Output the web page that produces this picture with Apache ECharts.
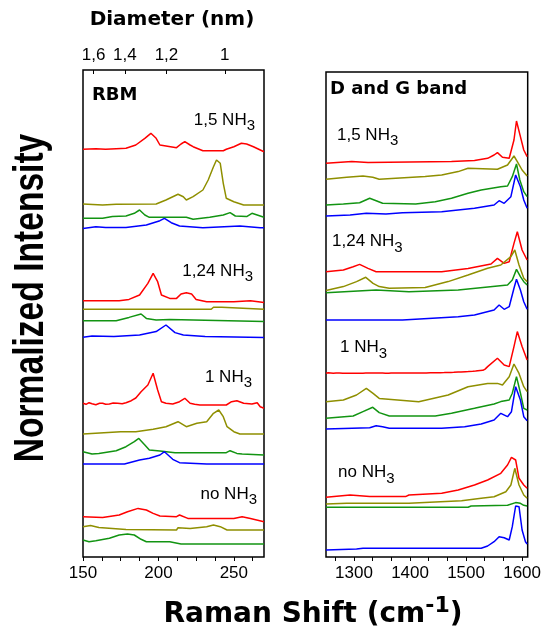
<!DOCTYPE html>
<html>
<head>
<meta charset="utf-8">
<script src="https://cdn.jsdelivr.net/npm/echarts@6/dist/echarts.min.js"></script>
<style>
  html, body { margin: 0; padding: 0; background: #ffffff; }
  #chart { width: 544px; height: 635px; }
</style>
</head>
<body>
<div id="chart"></div>
<script>
// Raman spectra of nanotube samples grown with different NH3 flows.
// Each spectrum: [Raman shift (cm-1), normalized intensity]; offsets stack them.

// ---------- RBM region (150-270 cm-1) ----------
const rbm15Red   = [[150,0.7],[158.5,1.3],[165,0.7],[172,1.3],[178.5,1.7],[185,5],[191,11.7],[195,16.7],[198.5,11.7],[201,5],[212,2.3],[215,6],[217.5,8.3],[221,5],[223,3.3],[229.5,-0.7],[243,-0.7],[245,0.7],[250,3.3],[255,6.7],[258.5,6],[263,3.3],[270,-1.7]];
const rbm15Olive = [[150,1],[163,0],[172,0.7],[198.5,1],[205,5],[213,10.7],[216.5,8.3],[218.5,5],[223,8.3],[229.5,15],[233,25],[236.5,38.3],[238.5,45],[241,41.7],[243,21.7],[245,6.7],[250,3.3],[256.5,0],[270,0]];
const rbm15Green = [[150,-1],[163,-1],[169.5,0.7],[178.5,1.3],[184,4],[187.5,7.3],[191,2.3],[194,0],[218.5,0],[223,-2],[234,0],[243,2.3],[247.5,4.7],[251,1.3],[258.5,0.7],[262,4],[265.5,2.3],[270,0]];
const rbm15Blue  = [[150,-0.7],[158.5,1],[165,0.3],[178.5,0.3],[192,2.7],[201,7],[204,9.3],[208.5,5],[214,1.7],[229.5,0],[254,1.7],[267.5,0],[270,0]];

const rbm124Red   = [[150,0],[174,0],[180.5,1.3],[187.5,5.7],[193,17.3],[196.5,27.3],[199.5,19],[202,5.7],[207.5,2.3],[212,2.3],[215,6.7],[218.5,8],[222,6.7],[225,1.3],[232,-1],[250,-1],[251,0.7],[261,0],[270,-1.7]];
const rbm124Olive = [[150,0],[235,0],[236.5,2],[242,2],[243,0],[270,0]];
const rbm124Green = [[150,0],[172,0],[173,1.7],[180.5,3.3],[188.5,6.7],[192,2.3],[198.5,0.7],[207.5,1.3],[208.5,-0.7],[270,-0.7]];
const rbm124Blue  = [[150,0],[156,1.3],[170.5,0.7],[187.5,2.3],[198.5,5.7],[205,12.3],[211,4.7],[216.5,2.3],[231,0.7],[232,-0.3],[270,-0.3]];

const rbm1Red   = [[150,0.7],[152,-0.3],[154,1.3],[156,0.2],[158.5,-0.7],[161,0.8],[163,0.7],[165,-0.3],[167.5,0],[170,1],[173,0.7],[176,0.2],[178.5,1.3],[182,3.3],[185,6],[188.5,12.3],[193,19],[196.5,30.7],[199.5,14],[202,2.3],[205,0.8],[209.5,0],[214,2.3],[217.5,5.7],[221,0.7],[224,-0.3],[227.5,-1],[245,-1],[248.5,2.3],[252,3.3],[256.5,0.7],[262,0],[265.5,1.3],[267.5,-2.7],[270,-4.3]];
const rbm1Olive = [[150,0],[175,2.3],[185,2.3],[196.5,4.7],[205,7.3],[213,12.3],[218.5,7.3],[225.5,10.7],[232,12.3],[236.5,20.7],[240,24],[243,17.3],[245.5,7.3],[250,2.3],[254,0],[270,0]];
const rbm1Green = [[150,1],[156,-1.3],[160.5,-0.7],[172,2],[178.5,6],[184,11],[187,14.3],[191,7.7],[194,2.7],[201,1.7],[211,0],[245,0],[247.5,2],[252,-0.7],[255.5,-1.3],[270,-2.3]];
const rbm1Blue  = [[150,0],[177.5,0],[187.5,4],[194,5.7],[201,9],[204,12.3],[209.5,4.7],[214,1.3],[232,0],[270,0]];

const rbmNoRed   = [[150,0],[163,-0.7],[174,1.7],[179.5,5],[186.5,8.3],[192,6.7],[196.5,3.3],[201,0.7],[212,0],[214,1.7],[219.5,-1.7],[250,-1.7],[255.5,0],[261,-1.7],[270,-5]];
const rbmNoOlive = [[150,0],[155,1.3],[160.5,-0.7],[178.5,-2.7],[212,-3.3],[213,-1],[221,-1.7],[232,0],[236.5,1.7],[241,0],[245.5,-3.3],[270,-3.3]];
const rbmNoGreen = [[150,0],[154,-1.7],[158.5,-0.7],[167.5,1.7],[174,5],[179.5,6],[184,5],[188.5,0.7],[192,-1.7],[207.5,-1.7],[215,-4],[270,-4]];

// vertical offsets (red, olive, green, blue)
const rbmOffsets15  = [407, 352, 339.7, 329.3];
const rbmOffsets124 = [256.3, 247.7, 236.3, 219.7];
const rbmOffsets1   = [153, 123, 104.3, 93];
const rbmOffsetsNo  = [40.3, 30.3, 17];

// ---------- D and G band region (1250-1610 cm-1) ----------
const dg15Red   = [[1250,0],[1296,1.7],[1325,0.7],[1474,1.7],[1515,2.7],[1538.5,5],[1550,8.3],[1556,10.7],[1565,6],[1577,5],[1585.5,23.3],[1590,42.3],[1597,26.7],[1603,13.3],[1609,6.7]];
const dg15Olive = [[1250,0],[1287,2],[1316,3.3],[1333.5,2],[1345,0],[1374.5,1],[1427,2.7],[1456.5,4.3],[1486,7.7],[1503.5,11],[1556,10],[1574,14.3],[1585.5,23.3],[1591.5,17.7],[1600,9.3],[1609,3.3]];
const dg15Green = [[1250,0],[1281,1],[1310,2.3],[1328,6.7],[1339.5,4.3],[1351,1.7],[1410,1],[1445,3.3],[1474,6.7],[1503.5,11.7],[1527,15],[1562,18.3],[1574,19],[1582.5,28.3],[1590,41],[1596,25],[1603,13.3],[1609,8.3]];
const dg15Blue  = [[1250,0],[1293,1],[1322,2.7],[1357,2],[1386.5,3.3],[1456.5,4.3],[1515,7.7],[1550,11],[1559,15.3],[1568,12.7],[1580,19.3],[1588.5,41],[1597,29.3],[1603,16],[1609,7.7]];

const dg124Red   = [[1250,0],[1281,1.7],[1298.5,5],[1310,7.3],[1325,3.3],[1339.5,0],[1456.5,0],[1503.5,3.3],[1544.5,7.7],[1556,13.3],[1568,8.3],[1577,10],[1585.5,28.3],[1591.5,40],[1600,21.7],[1609,11.7]];
const dg124Olive = [[1250,-2.3],[1281,1.7],[1304.5,6.7],[1321,11],[1334,5],[1345,1.7],[1363,0],[1427,0.7],[1468,6.7],[1503.5,13.3],[1538.5,20],[1562,23.3],[1580,31.7],[1587,38.3],[1594.5,23.3],[1603,10],[1609,6.7]];
const dg124Green = [[1250,0],[1339.5,2.7],[1398,1],[1486,2.7],[1574,7.7],[1582.5,12.7],[1590,23.3],[1597,16],[1603,11],[1609,7.7]];
const dg124Blue  = [[1250,0],[1386.5,0],[1486,3.3],[1515,5],[1550,10],[1559,15],[1568,10.7],[1577,13.3],[1585.5,31.7],[1590,40.7],[1597,30],[1603,18.3],[1609,10.7]];

const dg1Red   = [[1250,0],[1254,0.6],[1257,0],[1263,0],[1265,-0.5],[1268,0.3],[1274,0.3],[1277,0.8],[1280,0],[1289,0],[1291,-0.6],[1294,0],[1302,0],[1304,0.7],[1307,0.1],[1316,0.1],[1318,-0.5],[1321,0.2],[1326,0.2],[1328,0.9],[1331,0.2],[1339,0.2],[1341,-0.6],[1344,0.2],[1351,0.2],[1353,0.8],[1356,0.1],[1362,0.1],[1364,-0.4],[1366,0.3],[1373,0.3],[1375,1],[1378,0.3],[1385,0.3],[1387,-0.5],[1390,0.3],[1399,0.4],[1401,0.9],[1404,0.3],[1411,0.3],[1413,-0.3],[1416,0.4],[1424,0.4],[1426,1],[1429,0.4],[1436,0.5],[1438,-0.2],[1441,0.5],[1449,0.6],[1451,1.2],[1454,0.6],[1461,0.7],[1463,0.1],[1466,0.8],[1473,0.9],[1475,1.5],[1478,1],[1486,1.2],[1488,0.7],[1491,1.3],[1499,1.6],[1501,2.2],[1504,1.7],[1512,2],[1514,1.5],[1517,2.3],[1525,2.8],[1527,3.4],[1530,3],[1534,4.2],[1538.5,6.7],[1556,15],[1568,8.3],[1577,6.7],[1585.5,26.7],[1591.5,41.7],[1600,26.7],[1609,13.3]];
const dg1Olive = [[1250,0],[1281,1.7],[1304.5,6.7],[1322,13.3],[1334,8.3],[1345,3.3],[1415.5,0],[1468,6.7],[1503.5,15],[1538.5,18.3],[1556,18.3],[1565,16.7],[1577,25],[1585.5,37.7],[1594.5,28.3],[1603,15],[1609,10]];
const dg1Green = [[1250,-1],[1298.5,1.3],[1316,5.7],[1333.5,10],[1345,4.7],[1363,1.3],[1445,1.3],[1474,4],[1515,9],[1550,13.3],[1562,15.7],[1577,17.3],[1582.5,24],[1590,40.7],[1597,24.3],[1603,9],[1609,7.3]];
const dg1Blue  = [[1250,0],[1328,1.3],[1339.5,3.3],[1351,2.3],[1363,0.7],[1456.5,0.7],[1497.5,2.3],[1527,5],[1550,9],[1562,15.7],[1574,12.3],[1581,17.3],[1588.5,42.3],[1597,29],[1603,12.3],[1609,8.3]];

const dgNoRed   = [[1250,0],[1293,2.3],[1328,0.7],[1392,0.7],[1398,2.3],[1456.5,4],[1486,7.3],[1515,12.3],[1538.5,17.3],[1562,24],[1574,32.3],[1581,40],[1588.5,37.3],[1594.5,19],[1603,12.3],[1609,9]];
const dgNoOlive = [[1250,0],[1287,0.7],[1398,0.7],[1492,3.3],[1527,5.7],[1550,7.3],[1571,12.3],[1580,19],[1587,35.7],[1594.5,19],[1603,9],[1609,5.7]];
const dgNoGreen = [[1250,0],[1503.5,0],[1509,1.3],[1574,2],[1588.5,4.7],[1597,4],[1603,2],[1609,1.3]];
const dgNoBlue  = [[1250,0],[1304.5,1],[1316,1.7],[1527,1.7],[1538.5,4],[1550,8.3],[1559,13.3],[1568,12.3],[1577,10],[1582.5,23.3],[1588.5,44],[1594.5,43.3],[1600,20],[1606,8.3],[1609,6]];

const dgOffsets15  = [393.7, 377.7, 352, 341];
const dgOffsets124 = [285.3, 268.7, 264.3, 237];
const dgOffsets1   = [183.7, 155.3, 139.7, 128];
const dgOffsetsNo  = [59.7, 53, 49.7, 7];

// ---------- axes ----------
const rbmRange = [150, 270];
const rbmLabelValues = [150, 200, 250];
const rbmTickStep = 12.5;
const dgRange = [1250, 1610];
const dgLabelValues = [1300, 1400, 1500, 1600];
const dgTicksPerLabel = 3;
const diameterValues = [1.6, 1.4, 1.2, 1.0];
const diameterLabels = ['1,6', '1,4', '1,2', '1'];
const groupNames = ['1,5', '1,24', '1', 'no'];

// RBM frequency (cm-1) for a tube diameter d (nm)
const rbmFromDiameter = d => 232 / d + 12;

const colors = ['#ff0000', '#8f8f00', '#129412', '#0000ff'];

const rbmTicks = [];
for (let v = rbmRange[0]; v < rbmRange[1]; v += rbmTickStep) rbmTicks.push(v);
const dgTicks = [];
const dgStep = (dgLabelValues[1] - dgLabelValues[0]) / dgTicksPerLabel;
for (let v = dgLabelValues[0] - dgStep; v <= dgLabelValues[dgLabelValues.length - 1] + 1e-6; v += dgStep) {
  if (v >= dgRange[0]) dgTicks.push(v);
}
const diameterTicks = diameterValues.map(rbmFromDiameter);

function trace(points, offset, color, axis) {
  return {
    type: 'line', xAxisIndex: axis, yAxisIndex: axis === 2 ? 1 : 0,
    data: points.map(p => [p[0], p[1] + offset]),
    showSymbol: false, symbol: 'none', silent: true, animation: false,
    lineStyle: { color: color, width: 1.5 }, itemStyle: { color: color }
  };
}

const rbmGroups = [
  [[rbm15Red, rbm15Olive, rbm15Green, rbm15Blue], rbmOffsets15],
  [[rbm124Red, rbm124Olive, rbm124Green, rbm124Blue], rbmOffsets124],
  [[rbm1Red, rbm1Olive, rbm1Green, rbm1Blue], rbmOffsets1],
  [[rbmNoRed, rbmNoOlive, rbmNoGreen], rbmOffsetsNo]
];
const dgGroups = [
  [[dg15Red, dg15Olive, dg15Green, dg15Blue], dgOffsets15],
  [[dg124Red, dg124Olive, dg124Green, dg124Blue], dgOffsets124],
  [[dg1Red, dg1Olive, dg1Green, dg1Blue], dgOffsets1],
  [[dgNoRed, dgNoOlive, dgNoGreen, dgNoBlue], dgOffsetsNo]
];

const series = [];
rbmGroups.forEach(([traces, offs]) => traces.forEach((t, i) => series.push(trace(t, offs[i], colors[i], 0))));
dgGroups.forEach(([traces, offs]) => traces.forEach((t, i) => series.push(trace(t, offs[i], colors[i], 2))));

const tickFont = { color: '#000', fontFamily: 'Liberation Sans', fontSize: 17 };
const plainNumber = v => String(Math.round(v));

// sample labels inside the panels
const labelRich = {
  m: { fontFamily: 'Liberation Sans', fontSize: 17, color: '#000' },
  s: { fontFamily: 'Liberation Sans', fontSize: 15, color: '#000', padding: [12, 0, 0, 0] }
};
const rbmLabelPos = [[255, 120], [253, 271], [252, 377], [257, 494]];
const dgLabelPos  = [[337, 135], [332, 241.5], [340, 347.5], [338, 472.5]];
const sampleLabels = [];
groupNames.forEach((g, i) => {
  const text = '{m|' + g + ' NH}{s|3}';
  sampleLabels.push({ type: 'text', x: rbmLabelPos[i][0], y: rbmLabelPos[i][1], silent: true,
    style: { text, rich: labelRich, align: 'right', verticalAlign: 'middle', textAlign: 'right', textVerticalAlign: 'middle' } });
  sampleLabels.push({ type: 'text', x: dgLabelPos[i][0], y: dgLabelPos[i][1], silent: true,
    style: { text, rich: labelRich, align: 'left', verticalAlign: 'middle', textAlign: 'left', textVerticalAlign: 'middle' } });
});

const boldFont = (size, fam) => 'bold ' + size + 'px ' + (fam || '"DejaVu Sans"');

const option = {
  backgroundColor: '#ffffff',
  animation: false,
  grid: [
    { left: 83, top: 70, width: 181, height: 487, show: true, borderColor: '#000', borderWidth: 1.5, backgroundColor: 'transparent' },
    { left: 326, top: 72, width: 204, height: 485, show: true, borderColor: '#000', borderWidth: 1.5, backgroundColor: 'transparent' }
  ],
  xAxis: [
    { type: 'value', gridIndex: 0, position: 'bottom', min: rbmRange[0], max: rbmRange[1],
      axisLine: { show: false }, splitLine: { show: false },
      axisTick: { show: true, inside: false, length: 4, customValues: rbmTicks, lineStyle: { color: '#000', width: 1 } },
      axisLabel: Object.assign({ customValues: rbmLabelValues, margin: 8, formatter: plainNumber }, tickFont) },
    { type: 'value', gridIndex: 0, position: 'top', min: rbmRange[0], max: rbmRange[1],
      axisLine: { show: false }, splitLine: { show: false },
      axisTick: { show: true, inside: true, length: 4, customValues: diameterTicks, lineStyle: { color: '#000', width: 1 } },
      axisLabel: Object.assign({ customValues: diameterTicks, margin: 6,
        formatter: v => { const i = diameterTicks.findIndex(t => Math.abs(t - v) < 1e-6); return i >= 0 ? diameterLabels[i] : ''; } }, tickFont) },
    { type: 'value', gridIndex: 1, position: 'bottom', min: dgRange[0], max: dgRange[1],
      axisLine: { show: false }, splitLine: { show: false },
      axisTick: { show: true, inside: false, length: 4, customValues: dgTicks, lineStyle: { color: '#000', width: 1 } },
      axisLabel: Object.assign({ customValues: dgLabelValues, margin: 8, formatter: plainNumber }, tickFont) }
  ],
  yAxis: [
    { type: 'value', gridIndex: 0, min: 0, max: 487, show: false },
    { type: 'value', gridIndex: 1, min: 0, max: 485, show: false }
  ],
  series: series,
  graphic: [
    { type: 'text', x: 172, y: 20, silent: true,
      style: { text: 'Diameter (nm)', font: boldFont(20), fill: '#000', align: 'center', verticalAlign: 'middle', textAlign: 'center', textVerticalAlign: 'middle' } },
    { type: 'text', x: 92, y: 95, silent: true,
      style: { text: 'RBM', font: boldFont(18), fill: '#000', align: 'left', verticalAlign: 'middle', textAlign: 'left', textVerticalAlign: 'middle' } },
    { type: 'text', x: 330, y: 89, silent: true,
      style: { text: 'D and G band', font: boldFont(18), fill: '#000', align: 'left', verticalAlign: 'middle', textAlign: 'left', textVerticalAlign: 'middle' } },
    { type: 'text', x: 31, y: 298, rotation: Math.PI / 2, scaleX: 0.8, silent: true,
      style: { text: 'Normalized Intensity', font: boldFont(42, '"Liberation Sans"'), fill: '#000', align: 'center', verticalAlign: 'middle', textAlign: 'center', textVerticalAlign: 'middle' } },
    { type: 'text', x: 313, y: 615, silent: true,
      style: { text: '{t|Raman Shift (cm}{u|-1}{t|)}', align: 'center', verticalAlign: 'middle', textAlign: 'center', textVerticalAlign: 'middle',
        rich: {
          t: { font: boldFont(28), color: '#000' },
          u: { font: boldFont(22), color: '#000', padding: [0, 0, 18, 0] }
        } } }
  ].concat(sampleLabels)
};

const chart = echarts.init(document.getElementById('chart'), null, { renderer: 'canvas' });
chart.setOption(option);
</script>
</body>
</html>
